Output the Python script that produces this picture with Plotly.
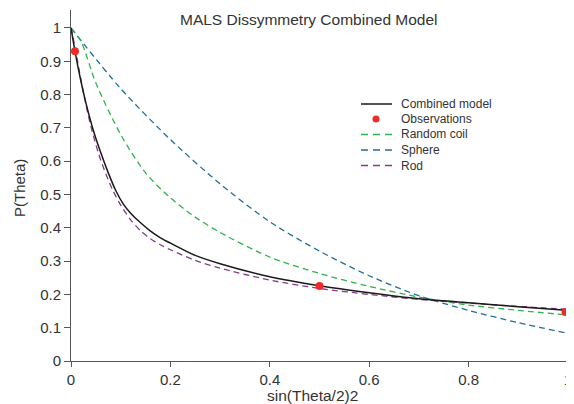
import plotly.graph_objects as go

# ---- data ----
coil_x = [0, 0.02, 0.05, 0.1, 0.15, 0.2, 0.25, 0.3, 0.4, 0.5, 0.6, 0.7, 0.8, 0.9, 1.0]
coil_y = [1.0, 0.96, 0.835, 0.68, 0.565, 0.49, 0.432, 0.386, 0.312, 0.263, 0.224, 0.192, 0.168, 0.152, 0.138]

sphere_x = [0, 0.1, 0.2, 0.3, 0.4, 0.5, 0.6, 0.7, 0.8, 0.9, 1.0]
sphere_y = [1.0, 0.818, 0.665, 0.532, 0.418, 0.33, 0.256, 0.196, 0.152, 0.115, 0.083]

rod_x = [0, 0.005, 0.02, 0.03, 0.04, 0.055, 0.07, 0.085, 0.1, 0.12, 0.14, 0.16, 0.18, 0.2,
         0.25, 0.3, 0.4, 0.5, 0.6, 0.7, 0.8, 0.9, 1.0]
rod_y = [1.0, 0.965, 0.845, 0.77, 0.705, 0.625, 0.562, 0.51, 0.468, 0.424, 0.391, 0.367, 0.349, 0.334,
         0.302, 0.279, 0.243, 0.218, 0.200, 0.185, 0.174, 0.164, 0.155]

comb_x = [0, 0.008, 0.02, 0.03, 0.045, 0.06, 0.075, 0.09, 0.105, 0.12, 0.14, 0.16, 0.18, 0.2,
          0.25, 0.3, 0.4, 0.5, 0.6, 0.7, 0.8, 0.9, 1.0]
comb_y = [1.0, 0.93, 0.84, 0.775, 0.692, 0.625, 0.565, 0.512, 0.472, 0.444, 0.415, 0.39, 0.37, 0.354,
          0.317, 0.292, 0.253, 0.226, 0.205, 0.187, 0.175, 0.163, 0.152]

obs_x = [0.008, 0.5, 0.995]
obs_y = [0.93, 0.225, 0.147]

x_ticks = [0, 0.2, 0.4, 0.6, 0.8, 1.0]
x_tick_text = ["0", "0.2", "0.4", "0.6", "0.8", "1"]
y_ticks = [0, 0.1, 0.2, 0.3, 0.4, 0.5, 0.6, 0.7, 0.8, 0.9, 1.0]
y_tick_text = ["0", "0.1", "0.2", "0.3", "0.4", "0.5", "0.6", "0.7", "0.8", "0.9", "1"]

legend_names = ["Combined model", "Observations", "Random coil", "Sphere", "Rod"]

# ---- styles ----
C_BLACK = "#1a1a1a"
C_RED = "#ee2b2b"
C_GREEN = "#2fb34a"
C_BLUE = "#1f6e9c"
C_PURPLE = "#8a3a8e"
DASH = "6px,4px"
FONT = "Liberation Sans, Arial, sans-serif"
TXT = "#333333"

fig = go.Figure()
fig.add_trace(go.Scatter(x=sphere_x, y=sphere_y, mode="lines", name="Sphere",
                         line=dict(color=C_BLUE, width=1.3, dash=DASH, shape="spline", smoothing=0.8)))
fig.add_trace(go.Scatter(x=coil_x, y=coil_y, mode="lines", name="Random coil",
                         line=dict(color=C_GREEN, width=1.3, dash=DASH, shape="spline", smoothing=0.8)))
fig.add_trace(go.Scatter(x=rod_x, y=rod_y, mode="lines", name="Rod",
                         line=dict(color=C_PURPLE, width=1.3, dash=DASH, shape="spline", smoothing=0.8)))
fig.add_trace(go.Scatter(x=comb_x, y=comb_y, mode="lines", name="Combined model",
                         line=dict(color=C_BLACK, width=1.5, shape="spline", smoothing=0.8)))
fig.add_trace(go.Scatter(x=obs_x, y=obs_y, mode="markers", name="Observations",
                         marker=dict(color=C_RED, size=8), cliponaxis=False))

# ---- page geometry (browser body has an 8px margin) ----
OFF = 8
W, H = 574 - OFF, 404 - OFF
PL, PT, PR, PB = 71, 10, 568, 361     # plot area in reference pixels
L, T = PL - OFF, PT - OFF
pw, ph = PR - PL, PB - PT
R, B = W - L - pw, H - T - ph

def px2x(px):
    return (px - PL) / pw
def py2y(py):
    return (PB - py) / ph

rows = [104, 119, 134.5, 150, 165.5]
styles = [("solid", C_BLACK, 1.5), ("dot", C_RED, 0), ("dash", C_GREEN, 1.3),
          ("dash", C_BLUE, 1.3), ("dash", C_PURPLE, 1.3)]
shapes = []
annotations = []
for name, row, (kind, col, wid) in zip(legend_names, rows, styles):
    yy = py2y(row)
    if kind == "dot":
        shapes.append(dict(type="circle", xref="paper", yref="paper",
                           xsizemode="pixel", ysizemode="pixel",
                           xanchor=px2x(376), yanchor=yy,
                           x0=-3.5, x1=3.5, y0=-3.5, y1=3.5,
                           fillcolor=col, line=dict(width=0)))
    else:
        shapes.append(dict(type="line", xref="paper", yref="paper",
                           x0=px2x(361), x1=px2x(392), y0=yy, y1=yy,
                           line=dict(color=col, width=wid,
                                     dash=("solid" if kind == "solid" else "7px,5px"))))
    annotations.append(dict(text=name, xref="paper", yref="paper",
                            x=px2x(399), y=yy, xanchor="left", yanchor="middle",
                            showarrow=False, font=dict(family=FONT, size=12, color=TXT)))

# axis titles and chart title
annotations.append(dict(text="MALS Dissymmetry Combined Model", xref="paper", yref="paper",
                        x=px2x(308.5), y=py2y(20), xanchor="center", yanchor="middle",
                        showarrow=False, font=dict(family=FONT, size=15.5, color=TXT)))
annotations.append(dict(text="P(Theta)", xref="paper", yref="paper",
                        x=px2x(19), y=py2y(188), xanchor="center", yanchor="middle",
                        textangle=-90, showarrow=False,
                        font=dict(family=FONT, size=15, color=TXT)))
annotations.append(dict(text="sin(Theta/2)2", xref="paper", yref="paper",
                        x=px2x(312.5), y=py2y(395), xanchor="center", yanchor="middle",
                        showarrow=False, font=dict(family=FONT, size=15.5, color=TXT)))

fig.update_layout(
    width=W, height=H,
    margin=dict(l=L, r=R, t=T, b=B, autoexpand=False),
    paper_bgcolor="white", plot_bgcolor="white",
    showlegend=False,
    shapes=shapes, annotations=annotations,
    font=dict(family=FONT, size=15, color=TXT),
)
fig.update_xaxes(range=[0, 1.0], tickvals=x_ticks, ticktext=x_tick_text,
                 showgrid=False, zeroline=False, showline=True, linecolor="#555555",
                 linewidth=1, ticks="outside", ticklen=5, tickcolor="#555555",
                 tickfont=dict(family=FONT, size=15, color=TXT))
fig.update_yaxes(range=[0, 1.054], tickvals=y_ticks, ticktext=y_tick_text,
                 showgrid=False, zeroline=False, showline=True, linecolor="#555555",
                 linewidth=1, ticks="outside", ticklen=6, tickcolor="#555555",
                 tickfont=dict(family=FONT, size=15, color=TXT))

fig.write_html("out.html")
